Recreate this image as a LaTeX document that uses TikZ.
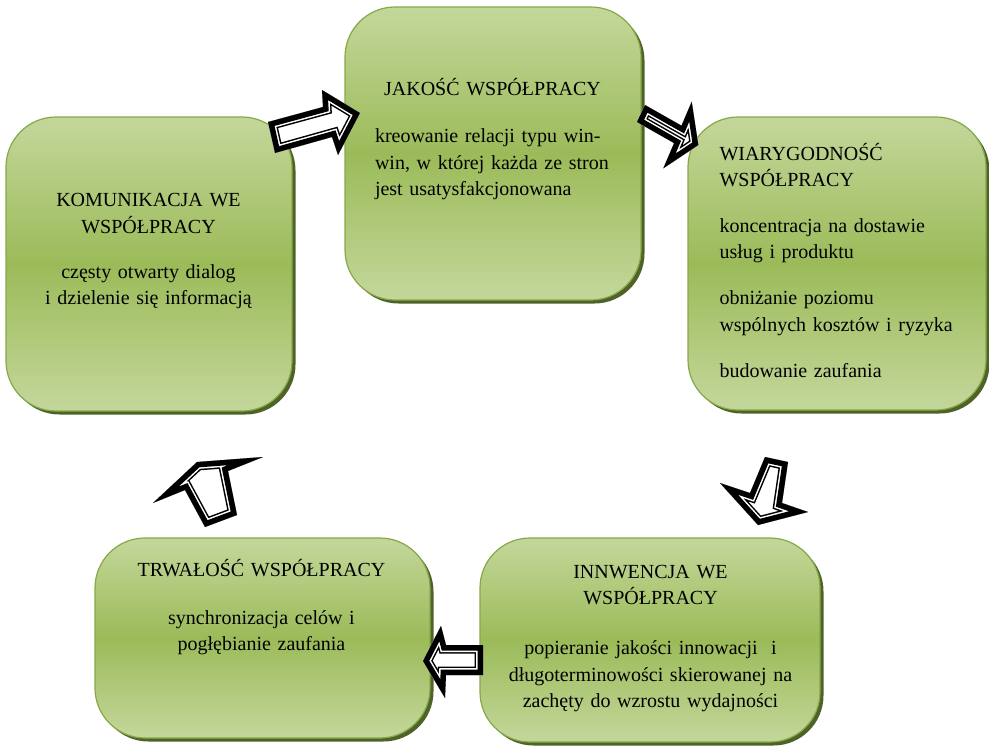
\documentclass[tikz,border=0pt]{standalone}
\usepackage{fontspec}
\setmainfont{Liberation Serif}
\usetikzlibrary{shadows}
\definecolor{leafTop}{RGB}{196,215,155}
\definecolor{leafMid}{RGB}{155,187,89}
\definecolor{leafLine}{RGB}{135,168,72}
\definecolor{leafShade}{RGB}{79,98,40}

% hollow block arrow: outer black band, thin white gap, thin black line
\newcommand{\hollowarrow}[1]{%
  \begin{scope}[line join=miter]
    \clip #1;
    \fill[white] #1;
    \draw[line width=17pt] #1;
    \draw[white,line width=14pt] #1;
    \draw[line width=11pt] #1;
  \end{scope}}

\begin{document}
\begin{tikzpicture}[
  x=1pt,y=-1pt,
  card/.style={draw=leafLine,line width=1.2pt,rounded corners=50pt,inner sep=0pt,
    top color=leafTop,bottom color=leafTop,middle color=leafMid,
    drop shadow={shadow xshift=3.5pt,shadow yshift=-3.5pt,fill=leafShade,opacity=1}},
  txt/.style={font=\fontsize{20}{26.3}\selectfont,inner sep=0pt,anchor=base,align=center}
]
  \useasboundingbox (0,0) rectangle (989,748);

  % boxes
  \node[card,minimum width=296pt,minimum height=293pt] (jakosc) at (493,153.5) {};
  \node[card,minimum width=286pt,minimum height=294pt] (komunikacja) at (149,264) {};
  \node[card,minimum width=298pt,minimum height=293pt] (wiarygodnosc) at (837,263.5) {};
  \node[card,minimum width=340pt,minimum height=204pt] (innwencja) at (650,640) {};
  \node[card,minimum width=335pt,minimum height=200pt] (trwalosc) at (262.5,638) {};

  % texts
  \node[txt,text width=235pt,align=left] (jakosc-txt) at (492.5,95)
    {\makebox[235pt]{JAKOŚĆ WSPÓŁPRACY}\\[21.4pt]\makebox[235pt][s]{kreowanie relacji typu win-}\\\makebox[235pt][s]{win, w której każda ze stron}\\jest usatysfakcjonowana};
  \node[txt,text width=270pt] (komunikacja-txt) at (148.5,206.7)
    {KOMUNIKACJA WE\\WSPÓŁPRACY\\[19.3pt]częsty otwarty dialog\\i dzielenie się informacją};
  \node[txt,text width=262pt,align=left,anchor=base west] (wiarygodnosc-txt) at (719.3,160)
    {WIARYGODNOŚĆ\\WSPÓŁPRACY\\[19.7pt]koncentracja na dostawie\\usług i produktu\\[20pt]obniżanie poziomu\\wspólnych kosztów i ryzyka\\[20pt]budowanie zaufania};
  \node[txt,text width=320pt] (innwencja-txt) at (650.5,578.3)
    {INNWENCJA WE\\WSPÓŁPRACY\\[24pt]popieranie jakości innowacji~ i\\długoterminowości skierowanej na\\zachęty do wzrostu wydajności};
  \node[txt,text width=320pt] (trwalosc-txt) at (261.5,576.7)
    {TRWAŁOŚĆ WSPÓŁPRACY\\[21pt]synchronizacja celów i\\pogłębianie zaufania};

  % arrows between the boxes
  \hollowarrow{(268,122) -- (323,107) -- (322,90) -- (360,113) -- (338,155) -- (332,137) -- (275,153) -- cycle}
  \hollowarrow{(645,105) -- (681.5,125.7) -- (691.7,101.7) -- (698.3,145) -- (663.3,168.3) -- (674.1,143.1) -- (637,122) -- cycle}
  \hollowarrow{(765,457) -- (788,462) -- (782,503) -- (808,512) -- (758,525) -- (720,483) -- (750,493) -- cycle}
  \hollowarrow{(483,645) -- (446,645) -- (441,626) -- (423,661) -- (445,698) -- (446,675) -- (483,675) -- cycle}
  \hollowarrow{(153,503) -- (197,462) -- (263,457) -- (228,471) -- (237,515) -- (205,527) -- (185,490) -- cycle}
\end{tikzpicture}
\end{document}
